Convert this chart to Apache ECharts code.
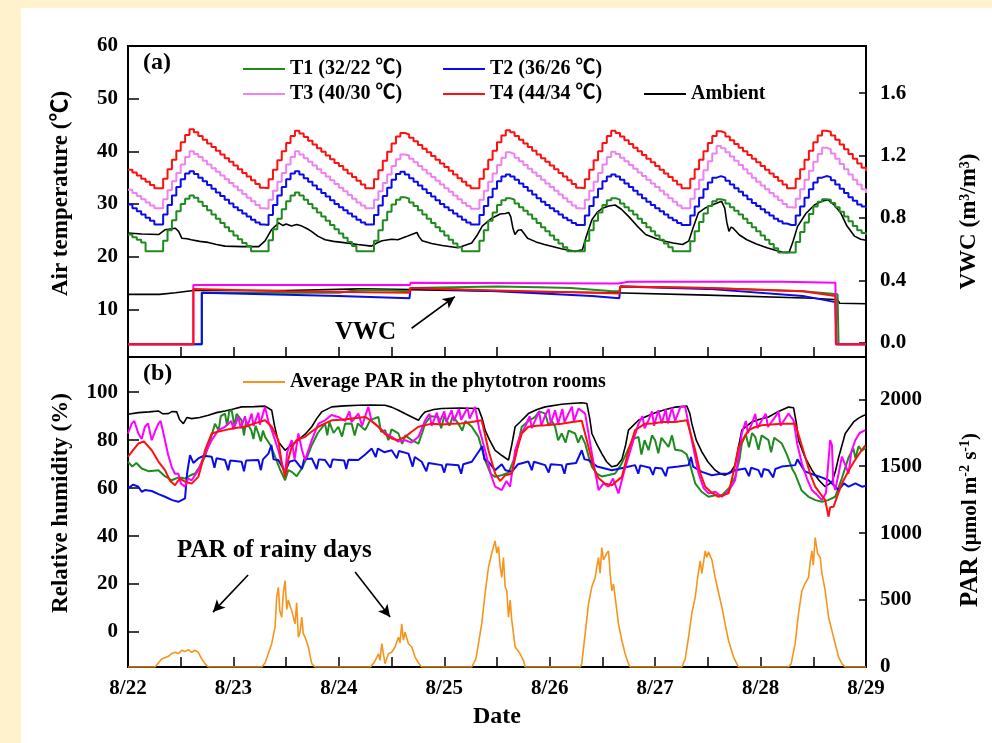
<!DOCTYPE html>
<html>
<head>
<meta charset="utf-8">
<style>
  html, body { margin: 0; padding: 0; background: #fff2cc; }
  #paper { position: absolute; left: 21px; top: 8px; right: 0; bottom: 0; background: #fff; }
  #chart { position: absolute; left: 0; top: 0; width: 992px; height: 743px; }
</style>
<script src="https://cdn.jsdelivr.net/npm/echarts@6/dist/echarts.min.js"></script>
</head>
<body>
<div id="paper"></div>
<div id="chart"></div>
<script>
// x axis is days after 8/22 00:00
var dateLabels = ['8/22', '8/23', '8/24', '8/25', '8/26', '8/27', '8/28', '8/29'];
var tempTicks = [10, 20, 30, 40, 50, 60];
var vwcTicks = [0, 0.4, 0.8, 1.2, 1.6];
var rhTicks = [0, 20, 40, 60, 80, 100];
var parTicks = [0, 500, 1000, 1500, 2000];

// hourly chamber temperatures, one row per day, last value = 8/29 00:00
var t1Temp = [
  [24.2, 23.7, 23.2, 22.7, 21.0, 21.0, 21.0, 21.0, 23.0, 25.0, 26.9, 28.6, 30.0, 31.0, 31.6, 31.2, 30.4, 29.6, 28.8, 28.0, 27.2, 26.4, 25.6, 24.8],
  [24.0, 23.3, 22.6, 22.0, 21.0, 21.0, 21.0, 21.0, 23.1, 25.2, 27.2, 29.0, 30.5, 31.6, 32.2, 31.6, 30.8, 30.0, 29.2, 28.4, 27.6, 26.8, 26.0, 25.2],
  [24.4, 23.6, 22.8, 22.0, 21.0, 21.0, 21.0, 21.0, 23.0, 25.0, 26.9, 28.5, 29.9, 30.8, 31.3, 31.0, 30.3, 29.6, 28.8, 28.0, 27.2, 26.4, 25.6, 24.8],
  [24.0, 23.2, 22.5, 21.8, 21.0, 21.0, 21.0, 21.0, 23.0, 25.0, 26.8, 28.4, 29.8, 30.7, 31.1, 30.8, 30.1, 29.4, 28.7, 28.0, 27.2, 26.4, 25.6, 24.8],
  [24.0, 23.2, 22.5, 21.8, 21.0, 21.0, 21.0, 21.0, 23.0, 25.0, 26.8, 28.4, 29.8, 30.7, 31.1, 30.8, 30.1, 29.4, 28.7, 28.0, 27.2, 26.4, 25.6, 24.8],
  [24.0, 23.2, 22.5, 21.8, 21.0, 21.0, 21.0, 21.0, 22.9, 24.8, 26.6, 28.2, 29.6, 30.5, 30.9, 30.7, 30.1, 29.4, 28.7, 28.0, 27.2, 26.4, 25.6, 24.8],
  [24.0, 23.2, 22.4, 21.6, 20.8, 20.8, 20.8, 20.8, 22.8, 24.7, 26.5, 28.1, 29.5, 30.4, 30.9, 30.8, 30.2, 29.4, 28.5, 27.6, 26.7, 25.8, 25.0, 24.5],
  [24.2]
];
var t2Temp = [
  [29.9, 29.2, 28.6, 28.0, 27.4, 26.8, 26.1, 26.1, 28.0, 29.8, 31.6, 33.2, 34.7, 35.8, 36.2, 35.7, 35.0, 34.3, 33.6, 32.9, 32.2, 31.5, 30.8, 30.1],
  [29.4, 28.8, 28.2, 27.6, 27.0, 26.5, 26.1, 26.0, 27.9, 29.8, 31.6, 33.2, 34.7, 35.8, 36.2, 35.6, 34.9, 34.2, 33.5, 32.8, 32.1, 31.4, 30.7, 30.0],
  [29.4, 28.8, 28.2, 27.6, 27.0, 26.5, 26.1, 26.1, 27.9, 29.7, 31.5, 33.1, 34.6, 35.7, 36.1, 35.6, 34.9, 34.2, 33.5, 32.8, 32.1, 31.4, 30.7, 30.0],
  [29.4, 28.8, 28.2, 27.6, 27.0, 26.5, 26.1, 26.1, 27.9, 29.6, 31.3, 32.9, 34.3, 35.2, 35.6, 35.2, 34.6, 33.9, 33.2, 32.5, 31.8, 31.1, 30.4, 29.8],
  [29.2, 28.6, 28.0, 27.4, 26.9, 26.4, 26.0, 26.0, 27.8, 29.6, 31.3, 32.9, 34.3, 35.2, 35.6, 35.2, 34.6, 33.9, 33.2, 32.5, 31.8, 31.1, 30.4, 29.8],
  [29.2, 28.6, 28.0, 27.4, 26.9, 26.4, 26.0, 26.0, 27.8, 29.5, 31.2, 32.8, 34.1, 35.0, 35.3, 35.0, 34.4, 33.7, 33.0, 32.3, 31.6, 30.9, 30.2, 29.6],
  [29.0, 28.4, 27.8, 27.2, 26.7, 26.3, 26.0, 26.0, 27.8, 29.5, 31.2, 32.8, 34.1, 35.0, 35.3, 35.1, 34.5, 33.7, 32.9, 32.1, 31.3, 30.6, 29.9, 29.5],
  [29.2]
];
var t3Temp = [
  [32.7, 32.1, 31.5, 30.9, 30.3, 29.7, 29.2, 29.2, 30.9, 32.6, 34.3, 35.9, 37.5, 38.9, 40.0, 39.5, 38.9, 38.2, 37.5, 36.8, 36.1, 35.4, 34.7, 34.0],
  [33.3, 32.6, 31.9, 31.2, 30.5, 29.8, 29.2, 29.1, 30.8, 32.5, 34.2, 35.9, 37.5, 38.9, 40.0, 39.4, 38.7, 38.0, 37.3, 36.6, 35.9, 35.2, 34.5, 33.8],
  [33.1, 32.4, 31.7, 31.0, 30.3, 29.7, 29.2, 29.2, 30.8, 32.4, 34.0, 35.6, 37.2, 38.5, 39.4, 39.2, 38.6, 37.9, 37.2, 36.5, 35.8, 35.1, 34.4, 33.7],
  [33.0, 32.3, 31.6, 30.9, 30.2, 29.6, 29.1, 29.1, 30.8, 32.5, 34.2, 35.8, 37.4, 38.8, 39.8, 39.5, 38.8, 38.1, 37.4, 36.7, 36.0, 35.3, 34.6, 33.9],
  [33.2, 32.5, 31.8, 31.1, 30.4, 29.7, 29.2, 29.1, 30.8, 32.5, 34.2, 35.9, 37.5, 38.9, 39.9, 39.5, 38.8, 38.1, 37.4, 36.7, 36.0, 35.3, 34.6, 33.9],
  [33.2, 32.5, 31.8, 31.1, 30.4, 29.7, 29.2, 29.2, 31.0, 32.8, 34.6, 36.4, 38.1, 39.6, 41.0, 40.6, 39.8, 39.0, 38.2, 37.4, 36.6, 35.8, 35.0, 34.2],
  [33.5, 32.8, 32.1, 31.4, 30.7, 30.0, 29.4, 29.3, 31.0, 32.8, 34.6, 36.3, 38.0, 39.5, 40.7, 40.4, 39.6, 38.6, 37.6, 36.6, 35.6, 34.6, 33.7, 32.8],
  [32.1]
];
var t4Temp = [
  [36.5, 36.0, 35.4, 34.8, 34.2, 33.6, 33.0, 33.0, 34.8, 36.6, 38.4, 40.1, 41.7, 43.1, 44.2, 43.6, 42.9, 42.2, 41.5, 40.8, 40.1, 39.4, 38.7, 38.0],
  [37.3, 36.6, 35.9, 35.2, 34.5, 33.8, 33.1, 33.0, 34.7, 36.5, 38.3, 40.0, 41.6, 42.9, 43.9, 43.4, 42.7, 42.0, 41.3, 40.6, 39.9, 39.2, 38.5, 37.8],
  [37.2, 36.5, 35.8, 35.1, 34.4, 33.7, 33.0, 33.0, 34.7, 36.4, 38.2, 39.9, 41.5, 42.8, 43.5, 43.2, 42.6, 41.9, 41.2, 40.5, 39.8, 39.1, 38.4, 37.7],
  [37.0, 36.3, 35.6, 34.9, 34.2, 33.5, 33.0, 33.0, 34.8, 36.6, 38.4, 40.1, 41.7, 43.0, 44.0, 43.6, 42.9, 42.2, 41.5, 40.8, 40.1, 39.4, 38.7, 38.0],
  [37.3, 36.6, 35.9, 35.2, 34.5, 33.8, 33.1, 33.0, 34.7, 36.5, 38.3, 40.0, 41.6, 42.9, 43.9, 43.5, 42.8, 42.1, 41.4, 40.7, 40.0, 39.3, 38.6, 37.9],
  [37.2, 36.5, 35.8, 35.1, 34.4, 33.7, 33.0, 33.0, 34.8, 36.6, 38.4, 40.0, 41.6, 42.9, 43.8, 43.5, 42.8, 42.1, 41.4, 40.7, 40.0, 39.3, 38.6, 37.9],
  [37.2, 36.5, 35.8, 35.1, 34.4, 33.7, 33.0, 33.0, 34.8, 36.6, 38.4, 40.1, 41.7, 43.0, 43.9, 43.7, 43.0, 42.2, 41.3, 40.4, 39.5, 38.6, 37.7, 36.9],
  [36.2]
];
var ambientTemp = [[0,24.5],[0.13,24.3],[0.29,24.2],[0.35,25.1],[0.45,25.4],[0.48,24.8],[0.51,23.5],[0.56,23.4],[0.6,23.2],[0.68,22.9],[0.76,22.7],[0.84,22.3],[0.92,22.0],[1.08,21.9],[1.24,21.9],[1.3,23.0],[1.36,25.1],[1.43,26.4],[1.47,25.9],[1.5,26.2],[1.55,25.8],[1.6,26.1],[1.65,25.8],[1.7,25.3],[1.74,24.8],[1.8,23.9],[1.87,23.2],[1.95,22.9],[2.03,22.7],[2.18,22.3],[2.31,22.0],[2.36,22.6],[2.41,23.0],[2.5,23.3],[2.56,23.2],[2.64,23.8],[2.69,24.2],[2.74,24.6],[2.76,23.8],[2.79,23.0],[2.88,22.5],[2.98,22.1],[3.13,21.7],[3.26,22.6],[3.31,24.0],[3.36,25.8],[3.45,27.3],[3.53,28.1],[3.58,28.2],[3.61,28.4],[3.63,27.6],[3.65,25.5],[3.67,24.2],[3.7,25.0],[3.73,25.1],[3.79,23.5],[3.87,22.8],[3.95,22.3],[4.11,21.5],[4.24,21.0],[4.31,21.3],[4.35,24.0],[4.40,27.0],[4.45,28.4],[4.50,29.2],[4.56,29.6],[4.62,29.8],[4.68,29.0],[4.75,27.6],[4.83,25.8],[4.91,24.2],[5.0,23.5],[5.07,23.0],[5.17,22.6],[5.26,22.3],[5.32,23.0],[5.36,25.5],[5.41,28.3],[5.48,29.3],[5.54,29.8],[5.6,30.3],[5.63,30.5],[5.66,29.2],[5.68,26.5],[5.70,24.8],[5.72,25.6],[5.74,25.4],[5.8,24.1],[5.87,23.2],[5.96,22.4],[6.06,21.7],[6.14,21.2],[6.22,20.8],[6.27,20.8],[6.31,23.0],[6.35,25.7],[6.43,28.2],[6.51,29.8],[6.58,30.5],[6.64,30.8],[6.7,29.8],[6.76,28.3],[6.82,25.8],[6.89,23.9],[6.95,23.3],[7,23.1]];

// soil volumetric water content, [day, m3/m3]
var vwcAmbient = [[0,0.31],[0.3,0.31],[0.45,0.32],[0.62,0.335],[1.5,0.335],[2.2,0.345],[2.67,0.34],[3.5,0.33],[4.6,0.32],[5.5,0.305],[6.5,0.285],[6.73,0.275],[6.75,0.253],[7,0.25]];
var vwcT1 = [[0,-0.01],[0.70,-0.01],[0.70,0.32],[1.5,0.32],[2.0,0.32],[2.2,0.34],[2.5,0.335],[2.67,0.33],[2.68,0.35],[3.5,0.36],[3.9,0.355],[4.2,0.35],[4.6,0.33],[4.66,0.33],[4.67,0.36],[5.5,0.35],[6.4,0.33],[6.73,0.31],[6.74,-0.01],[7,-0.01]];
var vwcT2 = [[0,-0.01],[0.70,-0.01],[0.70,0.32],[2.0,0.30],[2.67,0.285],[2.68,0.35],[3.5,0.33],[4.4,0.30],[4.66,0.285],[4.67,0.36],[5.5,0.345],[6.4,0.30],[6.71,0.26],[6.72,-0.01],[7,-0.01]];
var vwcT3 = [[0,-0.01],[0.62,-0.01],[0.62,0.37],[2.675,0.37],[2.68,0.385],[4.65,0.38],[4.75,0.39],[6.2,0.39],[6.71,0.385],[6.715,-0.01],[7,-0.01]];
var vwcT4 = [[0,-0.01],[0.62,-0.01],[0.62,0.345],[1.5,0.33],[2.67,0.32],[2.675,0.35],[3.5,0.335],[4.4,0.32],[4.66,0.315],[4.67,0.36],[5.5,0.35],[6.4,0.33],[6.71,0.30],[6.715,-0.01],[7,-0.01]];

// relative humidity, [day, %]
var rhAmbient = [[0,90.8],[0.1,91.5],[0.2,91.8],[0.288,92.2],[0.33,91.0],[0.383,91.1],[0.42,92.0],[0.462,91.8],[0.49,88.5],[0.525,86.9],[0.56,89.5],[0.604,89.0],[0.68,89.5],[0.762,90.4],[0.84,91.5],[0.92,92.2],[1.0,93.0],[1.078,93.9],[1.2,94.0],[1.3,94.2],[1.363,92.5],[1.39,86.0],[1.426,79.3],[1.49,75.8],[1.55,78.0],[1.616,80.0],[1.68,82.5],[1.743,85.6],[1.79,89.0],[1.837,91.8],[1.932,93.9],[2.05,94.3],[2.185,94.6],[2.3,94.7],[2.438,94.6],[2.5,93.8],[2.565,92.5],[2.63,91.0],[2.692,89.7],[2.755,88.3],[2.79,90.5],[2.818,91.8],[2.9,92.8],[2.976,93.2],[3.15,93.4],[3.324,93.2],[3.36,89.0],[3.387,84.2],[3.43,80.0],[3.482,75.8],[3.55,73.5],[3.609,71.7],[3.64,78.0],[3.672,85.6],[3.719,87.6],[3.798,91.1],[3.88,92.8],[3.957,93.9],[4.114,95.0],[4.2,95.3],[4.304,95.6],[4.352,95.3],[4.38,89.0],[4.4,82.8],[4.45,78.0],[4.494,74.4],[4.54,71.0],[4.589,68.9],[4.64,69.5],[4.684,71.9],[4.72,78.0],[4.747,84.2],[4.842,88.3],[4.92,90.0],[5.0,91.4],[5.1,92.8],[5.19,93.8],[5.301,94.2],[5.33,91.0],[5.348,86.9],[5.39,80.0],[5.443,75.1],[5.5,71.0],[5.569,67.5],[5.62,66.0],[5.664,65.4],[5.72,67.0],[5.759,69.6],[5.79,77.0],[5.822,84.2],[5.917,87.6],[6.0,88.8],[6.075,89.7],[6.17,92.0],[6.265,93.8],[6.313,93.5],[6.34,87.0],[6.36,80.0],[6.42,73.0],[6.487,67.5],[6.55,63.5],[6.613,60.6],[6.677,62.5],[6.71,67.0],[6.74,72.8],[6.803,82.8],[6.882,87.6],[6.93,89.2],[6.977,90.3],[7,90.6]];
var rhT1 = [[0,71.0],[0.04,69.0],[0.08,70.5],[0.13,68.2],[0.2,67.0],[0.288,67.5],[0.35,65.0],[0.414,63.3],[0.48,64.5],[0.541,64.0],[0.6,65.5],[0.636,66.1],[0.68,69.0],[0.73,73.1],[0.78,80.0],[0.825,86.9],[0.86,84.0],[0.88,90.0],[0.92,91.1],[0.94,86.0],[0.96,92.0],[0.983,92.5],[1.01,86.0],[1.03,91.0],[1.078,88.3],[1.10,82.0],[1.12,88.0],[1.17,84.0],[1.19,80.5],[1.21,86.0],[1.237,82.8],[1.26,79.5],[1.28,84.0],[1.3,81.4],[1.35,78.0],[1.395,73.1],[1.44,68.0],[1.49,63.3],[1.52,67.5],[1.553,66.8],[1.6,65.0],[1.648,68.2],[1.7,73.0],[1.743,77.9],[1.8,83.0],[1.869,86.9],[1.89,82.0],[1.91,87.5],[1.95,83.0],[1.995,85.6],[2.03,81.5],[2.06,87.0],[2.122,86.9],[2.15,82.0],[2.18,87.0],[2.249,84.2],[2.3,88.5],[2.375,89.7],[2.40,83.5],[2.438,84.2],[2.47,80.0],[2.50,84.5],[2.565,82.8],[2.6,78.5],[2.63,82.0],[2.692,80.0],[2.755,78.6],[2.79,83.0],[2.818,86.9],[2.87,90.0],[2.944,89.7],[2.97,85.0],[3.0,90.0],[3.05,86.0],[3.08,90.0],[3.134,86.9],[3.17,84.0],[3.2,88.0],[3.261,85.6],[3.324,81.4],[3.387,71.7],[3.44,66.0],[3.482,64.7],[3.55,65.5],[3.609,66.4],[3.672,73.1],[3.735,85.6],[3.8,88.0],[3.862,89.7],[3.9,92.0],[3.957,91.1],[3.99,86.0],[4.02,88.0],[4.051,85.6],[4.08,80.0],[4.114,82.8],[4.15,79.0],[4.18,84.0],[4.241,82.8],[4.27,79.0],[4.30,82.0],[4.336,78.6],[4.37,73.0],[4.4,68.9],[4.45,66.0],[4.494,64.9],[4.56,65.5],[4.621,66.1],[4.68,70.0],[4.747,76.5],[4.79,80.5],[4.842,81.4],[4.87,74.0],[4.90,80.0],[4.937,75.8],[4.97,82.0],[5.0,80.0],[5.03,74.5],[5.06,81.0],[5.127,77.2],[5.16,82.0],[5.19,76.0],[5.253,75.6],[5.3,74.0],[5.33,70.0],[5.38,62.0],[5.44,58.5],[5.506,56.4],[5.57,57.0],[5.633,57.1],[5.7,60.0],[5.759,64.7],[5.8,72.0],[5.822,78.6],[5.86,82.5],[5.89,77.0],[5.92,83.0],[5.949,81.4],[5.98,76.0],[6.01,82.0],[6.075,80.0],[6.1,75.0],[6.13,81.0],[6.202,78.6],[6.25,74.0],[6.3,68.0],[6.328,65.9],[6.39,59.0],[6.455,56.4],[6.52,55.0],[6.582,54.3],[6.64,55.0],[6.708,56.4],[6.77,64.0],[6.835,72.8],[6.88,76.5],[6.9,72.5],[6.93,77.5],[6.961,75.6],[7,77.0]];
var rhT2 = [[0,59.9],[0.05,61.5],[0.098,60.6],[0.13,58.5],[0.161,59.2],[0.225,58.8],[0.29,57.5],[0.351,56.4],[0.42,55.0],[0.478,54.3],[0.541,55.7],[0.56,66],[0.588,73.8],[0.62,70.5],[0.667,72.4],[0.72,73.5],[0.794,73.1],[0.82,68.5],[0.84,72.5],[0.92,71.7],[0.95,67.5],[0.97,71.5],[1.078,71.0],[1.1,67.0],[1.12,71.5],[1.237,71.7],[1.26,67.5],[1.28,72.0],[1.332,74.4],[1.36,78.0],[1.38,72.0],[1.426,71.7],[1.49,66.8],[1.53,71.0],[1.584,71.7],[1.65,68.0],[1.67,72.0],[1.743,72.4],[1.79,68.0],[1.81,72.0],[1.869,71.7],[1.92,68.5],[1.94,72.0],[2.05,71.5],[2.07,68.0],[2.09,71.8],[2.185,71.7],[2.25,74.0],[2.312,76.5],[2.35,73.0],[2.37,76.5],[2.43,75.0],[2.501,75.8],[2.55,72.5],[2.57,75.5],[2.66,74.4],[2.70,69.0],[2.72,73.0],[2.786,71.0],[2.83,67.0],[2.85,70.5],[2.976,69.6],[3.0,66.5],[3.02,70.0],[3.134,69.6],[3.16,66.0],[3.18,70.0],[3.261,71.0],[3.324,75.1],[3.36,77.5],[3.38,72.0],[3.419,71.0],[3.482,67.5],[3.545,70.0],[3.58,67.5],[3.64,66.8],[3.70,70.0],[3.798,71.1],[3.83,67.5],[3.85,71.0],[3.957,69.6],[3.99,66.5],[4.01,70.0],[4.114,69.6],[4.14,66.0],[4.16,70.0],[4.25,70.5],[4.304,75.8],[4.33,72.0],[4.368,71.7],[4.45,69.0],[4.589,67.5],[4.70,68.5],[4.81,69.6],[4.84,66.0],[4.86,69.5],[4.95,68.5],[4.98,65.5],[5.0,68.5],[5.063,68.2],[5.10,65.0],[5.12,68.5],[5.22,69.0],[5.317,69.6],[5.34,73.0],[5.36,69.0],[5.443,66.8],[5.538,65.4],[5.62,66.0],[5.696,66.1],[5.76,67.5],[5.854,68.2],[5.89,65.0],[5.91,68.5],[5.98,67.5],[6.01,64.5],[6.03,68.0],[6.075,67.5],[6.12,64.5],[6.14,68.0],[6.2,69.0],[6.328,69.6],[6.35,72.0],[6.42,67.0],[6.518,65.4],[6.58,64.5],[6.645,63.3],[6.70,61.0],[6.74,59.2],[6.79,62.0],[6.835,60.6],[6.9,62.0],[6.961,60.6],[7,61.0]];
var rhT3 = [[0,82.8],[0.035,86.9],[0.06,88.0],[0.098,82.8],[0.13,80.5],[0.161,85.6],[0.19,87.0],[0.225,80.0],[0.26,84.0],[0.288,86.9],[0.31,88.0],[0.351,80.0],[0.38,74.0],[0.414,68.9],[0.445,66.0],[0.478,66.1],[0.5,62.0],[0.541,60.6],[0.57,64.0],[0.604,63.3],[0.667,67.5],[0.73,74.4],[0.794,80.0],[0.857,84.2],[0.92,85.6],[0.98,88.0],[1.0,84.5],[1.047,89.7],[1.07,85.0],[1.11,90.0],[1.13,85.5],[1.173,91.1],[1.19,86.0],[1.237,91.5],[1.25,86.5],[1.3,93.9],[1.33,88.0],[1.363,84.2],[1.426,75.8],[1.46,70.0],[1.49,66.1],[1.51,75.0],[1.553,80.0],[1.58,72.0],[1.616,82.8],[1.65,76.0],[1.679,71.7],[1.743,80.0],[1.806,86.9],[1.869,88.3],[1.93,90.5],[1.995,89.7],[2.06,88.0],[2.10,92.0],[2.12,87.5],[2.185,91.1],[2.22,86.0],[2.28,93.9],[2.31,88.0],[2.375,85.6],[2.44,83.0],[2.501,81.4],[2.56,79.5],[2.628,80.0],[2.69,79.0],[2.755,81.4],[2.818,88.3],[2.86,91.0],[2.88,86.0],[2.93,91.5],[2.95,87.0],[3.0,92.0],[3.02,87.5],[3.07,92.5],[3.09,88.0],[3.14,93.0],[3.16,88.5],[3.22,93.5],[3.24,89.0],[3.292,93.9],[3.33,85.0],[3.387,75.8],[3.44,66.0],[3.482,60.6],[3.545,59.2],[3.59,63.0],[3.624,60.6],[3.672,75.8],[3.72,82.0],[3.767,85.6],[3.81,90.0],[3.83,85.0],[3.862,88.3],[3.9,92.0],[3.92,86.0],[3.957,90.4],[3.99,93.0],[4.01,87.0],[4.051,92.5],[4.08,87.0],[4.12,93.0],[4.14,87.5],[4.178,91.1],[4.21,94.0],[4.23,88.0],[4.273,93.2],[4.336,91.1],[4.4,74.4],[4.463,59.2],[4.51,62.0],[4.558,60.6],[4.6,64.0],[4.652,57.8],[4.7,66.0],[4.747,73.1],[4.842,86.9],[4.88,90.0],[4.9,85.0],[4.937,88.3],[4.97,92.0],[4.99,86.0],[5.03,92.5],[5.063,87.0],[5.1,93.0],[5.12,87.0],[5.16,93.5],[5.19,88.0],[5.24,93.9],[5.285,93.9],[5.348,80.0],[5.412,66.1],[5.46,60.0],[5.506,57.8],[5.57,58.5],[5.633,56.4],[5.7,59.0],[5.759,63.3],[5.822,82.8],[5.86,88.0],[5.88,83.0],[5.917,86.9],[5.95,91.0],[5.97,85.0],[6.012,88.3],[6.05,91.0],[6.07,85.5],[6.139,89.7],[6.17,92.0],[6.19,86.0],[6.265,91.1],[6.313,88.3],[6.35,78.0],[6.392,70.3],[6.44,64.0],[6.487,59.2],[6.54,57.0],[6.582,55.0],[6.62,58.0],[6.645,72.0],[6.66,80.0],[6.677,78.0],[6.69,62.0],[6.708,59.2],[6.74,66.0],[6.771,73.1],[6.8,70.0],[6.835,66.1],[6.86,75.0],[6.898,80.0],[6.94,83.0],[6.993,84.2]];
var rhT4 = [[0,73.1],[0.05,76.0],[0.098,78.6],[0.15,79.5],[0.225,75.8],[0.29,71.0],[0.351,67.5],[0.4,63.0],[0.446,61.2],[0.49,64.0],[0.541,62.7],[0.604,61.9],[0.667,64.7],[0.7,70.0],[0.73,75.8],[0.794,82.8],[0.85,83.5],[0.92,84.2],[1.0,85.0],[1.11,85.6],[1.2,87.0],[1.3,88.3],[1.363,85.6],[1.426,80.0],[1.46,70.0],[1.49,64.7],[1.52,72.0],[1.553,77.2],[1.6,80.0],[1.679,81.4],[1.74,83.5],[1.806,85.6],[1.87,87.0],[1.932,88.3],[2.03,88.5],[2.122,89.0],[2.249,89.7],[2.31,88.0],[2.375,85.6],[2.44,82.5],[2.501,80.7],[2.56,80.0],[2.628,81.4],[2.69,83.5],[2.755,85.6],[2.881,86.9],[2.98,86.5],[3.071,86.9],[3.16,87.0],[3.261,87.6],[3.355,88.3],[3.419,75.8],[3.482,66.1],[3.53,63.0],[3.577,65.3],[3.64,66.1],[3.69,76.0],[3.735,82.8],[3.798,85.6],[3.88,86.0],[3.957,86.2],[4.04,86.5],[4.114,86.9],[4.2,87.5],[4.304,88.1],[4.368,77.2],[4.42,68.0],[4.463,64.2],[4.52,62.0],[4.589,61.2],[4.684,64.7],[4.75,76.0],[4.81,84.2],[4.905,86.9],[4.98,87.0],[5.063,87.6],[5.19,87.6],[5.301,88.3],[5.38,75.8],[5.43,66.0],[5.475,60.6],[5.54,58.0],[5.601,56.4],[5.696,57.8],[5.75,68.0],[5.791,77.2],[5.886,84.2],[5.95,85.5],[6.012,86.2],[6.1,86.5],[6.202,86.9],[6.328,86.9],[6.423,73.1],[6.47,66.0],[6.518,60.6],[6.57,57.5],[6.613,55.0],[6.645,48.1],[6.66,52.0],[6.692,52.2],[6.73,57.0],[6.771,61.9],[6.82,66.0],[6.866,69.6],[6.93,74.0],[6.993,77.9]];

// average PAR in the phytotron rooms, [day, umol m-2 s-1]
var parAvg = [[0,0],[0.256,0],[0.32,60],[0.383,80],[0.414,100],[0.446,110],[0.478,100],[0.51,125],[0.541,115],[0.573,130],[0.604,110],[0.636,125],[0.667,110],[0.699,60],[0.73,25],[0.762,0],
  [1.269,0],[1.3,30],[1.363,174],[1.395,300],[1.41,520],[1.426,595],[1.44,420],[1.458,372],[1.474,560],[1.49,645],[1.506,430],[1.52,500],[1.553,421],[1.584,322],[1.6,480],[1.616,223],[1.632,260],[1.648,372],[1.663,250],[1.679,223],[1.711,149],[1.743,25],[1.774,0],
  [2.30,0],[2.34,40],[2.375,99],[2.39,50],[2.407,174],[2.438,25],[2.47,99],[2.501,110],[2.533,149],[2.565,223],[2.58,180],[2.596,322],[2.612,200],[2.628,260],[2.66,174],[2.692,149],[2.723,74],[2.755,30],[2.786,0],
  [3.26,0],[3.30,60],[3.355,322],[3.387,550],[3.419,743],[3.45,850],[3.482,942],[3.498,850],[3.514,900],[3.53,750],[3.545,669],[3.561,818],[3.577,600],[3.593,570],[3.609,372],[3.625,500],[3.64,350],[3.672,149],[3.70,120],[3.719,99],[3.75,50],[3.767,0],
  [4.29,0],[4.304,25],[4.336,248],[4.368,471],[4.40,600],[4.431,669],[4.447,750],[4.463,818],[4.478,700],[4.494,892],[4.51,800],[4.526,793],[4.542,850],[4.558,867],[4.573,700],[4.589,570],[4.605,620],[4.621,520],[4.652,322],[4.684,200],[4.715,99],[4.747,25],[4.763,0],
  [5.253,0],[5.285,60],[5.317,223],[5.348,400],[5.38,520],[5.40,650],[5.427,793],[5.443,700],[5.475,867],[5.49,820],[5.506,860],[5.522,867],[5.538,800],[5.569,669],[5.60,560],[5.633,446],[5.664,320],[5.696,198],[5.743,74],[5.791,0],
  [6.265,0],[6.29,25],[6.328,174],[6.36,400],[6.392,570],[6.42,620],[6.455,669],[6.47,780],[6.487,867],[6.50,760],[6.518,967],[6.54,850],[6.566,818],[6.582,700],[6.613,570],[6.645,372],[6.677,270],[6.708,174],[6.74,74],[6.771,25],[6.803,0],[7,0]];

var FONT = "'Liberation Serif','Times New Roman','Noto Sans CJK SC',serif";
var C = { t1: '#1f8b1f', t2: '#0b0be8', t3: '#ee82ee', t3b: '#ff00ff', t4: '#ff1010', amb: '#000000', par: '#f7941d' };

function hourly(rows) {
  return rows.flat().map(function (v, i) { return [i / 24, v]; });
}
function line(name, data, color, xi, yi, width, extra) {
  var s = {
    name: name, type: 'line', data: data, xAxisIndex: xi, yAxisIndex: yi,
    symbol: 'none', lineStyle: { color: color, width: width || 2 }, itemStyle: { color: color },
    silent: true
  };
  return Object.assign(s, extra || {});
}

var tick = { show: true, inside: true, lineStyle: { color: '#000', width: 1.5 } };
var labelStyle = { color: '#000', fontFamily: FONT, fontWeight: 'bold', fontSize: 21 };
var nameStyle = { color: '#000', fontFamily: FONT, fontWeight: 'bold', fontSize: 23 };
var supStyle = { fontFamily: FONT, fontWeight: 'bold', fontSize: 14, color: '#000', verticalAlign: 'top', lineHeight: 14 };
var noLine = { show: false, onZero: false };

var arrowLine = { silent: true, symbol: ['none', 'arrow'], symbolSize: [9, 12], label: { show: false },
  lineStyle: { color: '#000', width: 1.6, type: 'solid' } };

var chart = echarts.init(document.getElementById('chart'));
chart.setOption({
  animation: false,
  grid: [
    { left: 128, top: 46, width: 738, height: 311, show: true, borderColor: '#000', borderWidth: 2 },
    { left: 128, top: 357, width: 738, height: 310, show: true, borderColor: '#000', borderWidth: 2 }
  ],
  xAxis: [
    { type: 'value', gridIndex: 0, min: 0, max: 7, interval: 0.5, position: 'bottom',
      axisLine: noLine, axisTick: Object.assign({ length: 10 }, tick),
      axisLabel: { show: false }, splitLine: { show: false } },
    { type: 'value', gridIndex: 1, min: 0, max: 7, interval: 0.5, position: 'bottom',
      axisLine: noLine, axisTick: Object.assign({ length: 10 }, tick),
      axisLabel: Object.assign({ margin: 11, customValues: [0, 1, 2, 3, 4, 5, 6, 7],
        formatter: function (v) { return dateLabels[Math.round(v)]; } }, labelStyle),
      splitLine: { show: false },
      name: 'Date', nameLocation: 'middle', nameGap: 38,
      nameTextStyle: Object.assign({}, nameStyle, { fontSize: 24 }) }
  ],
  yAxis: [
    { type: 'value', gridIndex: 0, min: 0.94, max: 60, position: 'left',
      axisLine: noLine, splitLine: { show: false },
      axisTick: Object.assign({ length: 11, customValues: tempTicks }, tick),
      axisLabel: Object.assign({ margin: 10, customValues: tempTicks }, labelStyle),
      name: 'Air temperature (℃)', nameLocation: 'middle', nameRotate: 90, nameGap: 55,
      nameTextStyle: Object.assign({ padding: [0, 0, 0, 16] }, nameStyle) },
    { type: 'value', gridIndex: 0, min: -0.092, max: 1.903, position: 'right',
      axisLine: noLine, splitLine: { show: false },
      axisTick: Object.assign({ length: 7, customValues: vwcTicks }, tick),
      axisLabel: Object.assign({ margin: 14, customValues: vwcTicks,
        formatter: function (v) { return v.toFixed(1); } }, labelStyle),
      name: 'VWC (m{sup|3}/m{sup|3})', nameLocation: 'middle', nameRotate: 90, nameGap: 92,
      nameTextStyle: Object.assign({ padding: [0, 40, 0, 0], rich: { sup: supStyle } }, nameStyle) },
    { type: 'value', gridIndex: 1, min: -14.6, max: 114.7, position: 'left',
      axisLine: noLine, splitLine: { show: false },
      axisTick: Object.assign({ length: 11, customValues: rhTicks }, tick),
      axisLabel: Object.assign({ margin: 10, customValues: rhTicks }, labelStyle),
      name: 'Relative humidity (%)', nameLocation: 'middle', nameRotate: 90, nameGap: 55,
      nameTextStyle: Object.assign({ padding: [0, 0, 0, 18] }, nameStyle) },
    { type: 'value', gridIndex: 1, min: 0, max: 2316, position: 'right',
      axisLine: noLine, splitLine: { show: false },
      axisTick: Object.assign({ length: 7, customValues: parTicks }, tick),
      axisLabel: Object.assign({ margin: 14, customValues: parTicks,
        formatter: function (v) { return String(v); } }, labelStyle),
      name: '{big|PAR} (μmol m{sup|-2} s{sup|-1})', nameLocation: 'middle', nameRotate: 90, nameGap: 92,
      nameTextStyle: Object.assign({ padding: [0, 16, 0, 0],
        rich: { sup: supStyle, big: { fontFamily: FONT, fontWeight: 'bold', fontSize: 25, color: '#000' } } },
        nameStyle, { fontSize: 21 }) }
  ],
  // legend rows: [name, left, vertical centre]
  legend: [
    ['T1 (32/22 ℃)', 243, 66], ['T2 (36/26 ℃)', 443, 66],
    ['T3 (40/30 ℃)', 243, 91], ['T4 (44/34 ℃)', 443, 91], ['Ambient', 644, 91],
    ['Average PAR in the phytotron rooms', 243, 379]
  ].map(function (l) {
    return { data: [l[0]], left: l[1], top: l[2] - 7, padding: 0, icon: 'rect', itemWidth: 42, itemHeight: 2,
      selectedMode: false, textStyle: { color: '#000', fontFamily: FONT, fontWeight: 'bold', fontSize: 20 } };
  }),
  graphic: [
    { type: 'text', left: 143, top: 51, style: { text: '(a)', fill: '#000', font: 'bold 24px ' + FONT } },
    { type: 'text', left: 143, top: 362, style: { text: '(b)', fill: '#000', font: 'bold 24px ' + FONT } },
    { type: 'text', left: 335, top: 320, style: { text: 'VWC', fill: '#000', font: 'bold 25px ' + FONT } },
    { type: 'text', left: 177, top: 538, style: { text: 'PAR of rainy days', fill: '#000', font: 'bold 25px ' + FONT } }
  ],
  series: [
    line('Ambient', ambientTemp, C.amb, 0, 0, 1.6, {
      markLine: Object.assign({ data: [[{ coord: [2.69, 6.4] }, { coord: [3.10, 12.4] }]] }, arrowLine) }),
    line('T1 (32/22 ℃)', hourly(t1Temp), C.t1, 0, 0, 2, { step: 'end' }),
    line('T2 (36/26 ℃)', hourly(t2Temp), C.t2, 0, 0, 2, { step: 'end' }),
    line('T3 (40/30 ℃)', hourly(t3Temp), C.t3, 0, 0, 2, { step: 'end' }),
    line('T4 (44/34 ℃)', hourly(t4Temp), C.t4, 0, 0, 2, { step: 'end' }),

    line('VWC ambient', vwcAmbient, C.amb, 0, 1, 1.6),
    line('VWC T1', vwcT1, C.t1, 0, 1, 2),
    line('VWC T2', vwcT2, C.t2, 0, 1, 2),
    line('VWC T3', vwcT3, C.t3b, 0, 1, 2),
    line('VWC T4', vwcT4, C.t4, 0, 1, 2),

    line('RH ambient', rhAmbient, C.amb, 1, 2, 1.6, {
      markLine: Object.assign({ data: [
        [{ coord: [1.139, 23.8] }, { coord: [0.806, 8.3] }],
        [{ coord: [2.154, 25.0] }, { coord: [2.486, 6.3] }]
      ] }, arrowLine) }),
    line('RH T1', rhT1, C.t1, 1, 2, 2),
    line('RH T2', rhT2, C.t2, 1, 2, 2),
    line('RH T3', rhT3, C.t3b, 1, 2, 2),
    line('RH T4', rhT4, C.t4, 1, 2, 2),

    line('Average PAR in the phytotron rooms', parAvg, C.par, 1, 3, 1.6)
  ]
});
</script>
</body>
</html>
